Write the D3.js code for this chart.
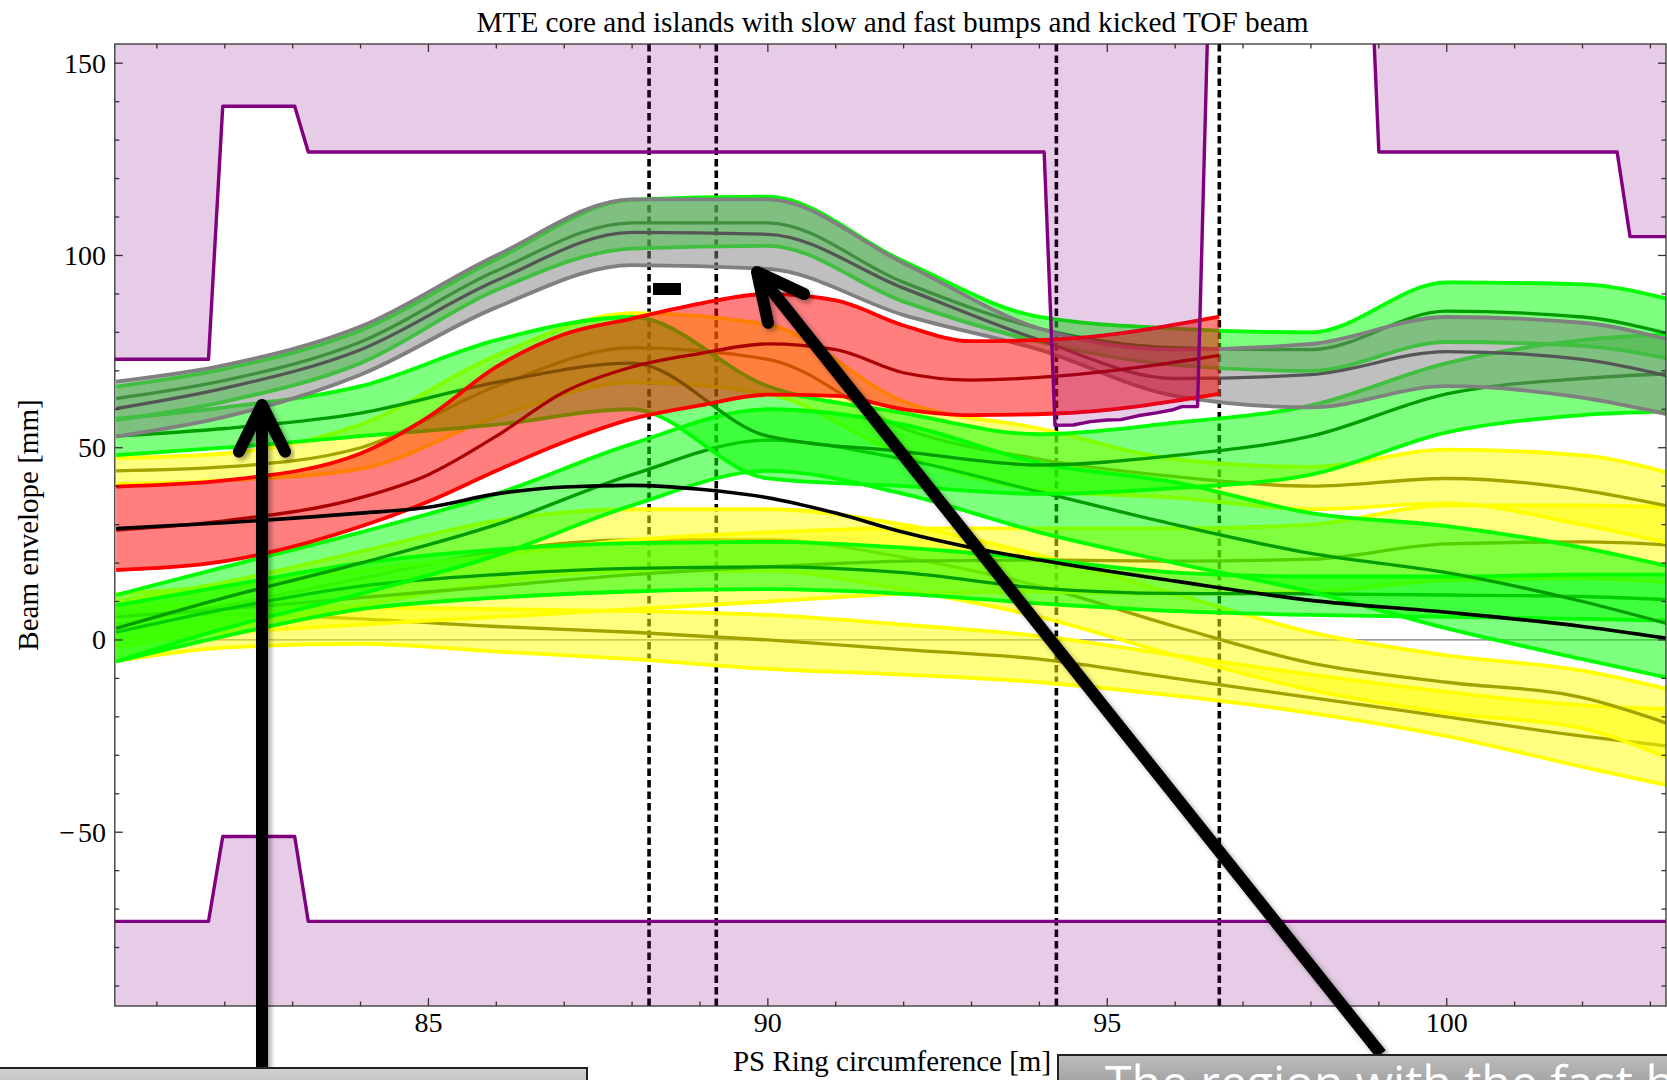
<!DOCTYPE html>
<html>
<head>
<meta charset="utf-8">
<script src="https://cdn.jsdelivr.net/npm/d3@7/dist/d3.min.js"></script>
<style>
body { margin:0; background:#fff; }
svg { display:block; }
</style>
</head>
<body>
<script>
// x grid shared by most bands (PS ring position, m)
var X = [80.4, 82, 84, 86, 88, 90, 92, 94, 96, 98, 100, 102, 103.3];

// core beam (grey)
var cTop = [67.2, 71.5, 81.5, 100, 114.6, 114.6, 98, 81, 75.5, 77, 84, 82.5, 78];
var cMid = [60.2, 65.5, 75.5, 93.5, 106, 105.5, 91.5, 78, 68, 69, 75, 73, 68.5];
var cLow = [52.9, 58, 69, 86.5, 97.5, 96.5, 84.5, 75.5, 63.5, 60.5, 66, 63, 58.5];

// islands (green)
var g1Top = [65.9, 70.5, 80.5, 99, 114.5, 115.3, 98.5, 84, 81, 80, 93, 92.5, 88.5];
var g1Mid = [62.8, 67.5, 77.5, 96, 108.5, 108.5, 93, 81, 76, 75.5, 85.5, 84, 79.5];
var g1Low = [57.2, 62, 72, 91, 101.8, 102.5, 88, 77.5, 71.5, 70, 77.5, 76.5, 73];

var g2Top = [57.5, 60.5, 66, 78, 84, 66, 59, 53.5, 56.5, 61, 72, 78, 79.5];
var g2Mid = [53, 55, 59, 67, 72, 53, 49, 45.5, 48, 53, 64, 68, 69.3];
var g2Low = [48.1, 50, 53, 56, 60, 42, 40, 38, 39.5, 43, 54, 58.5, 59.4];

var g6Top = [11.7, 19, 28, 38, 51, 60, 56, 46, 41, 33, 29.6, 24, 19];
var g6Mid = [3, 11, 20, 30, 43, 52, 47, 38.5, 30, 22.5, 17.5, 10, 4];
var g6Low = [-5.6, 3, 12, 22, 35, 44, 38, 28, 20, 12.5, 3, -5, -10];

var g7Top = [9, 14, 20, 23.5, 25.2, 25.5, 24, 21, 17.5, 16.5, 16.5, 17, 17];
var g7Mid = [2, 8, 14, 17, 18.6, 19, 17.5, 13.5, 12.1, 12, 11.7, 11.3, 10.4];
var g7Low = [-5.6, 1, 8, 11, 12.6, 13.2, 12, 9.5, 7.5, 6.5, 6, 5.5, 5];

// islands (yellow)
var y3Top = [47.3, 48.5, 56, 74, 85, 82, 62, 55, 47, 45, 49.5, 48, 43.3];
var y3Mid = [44, 45, 50, 66, 76, 73, 55, 47, 42.5, 40, 42, 39, 34.7];
var y3Low = [40.5, 41.5, 44.5, 58, 67, 64, 48, 39, 37, 34, 35.5, 30, 25.1];

var y6Top = [12, 14, 18, 22, 26, 28, 29, 29, 29, 30, 35, 35, 34.5];
var y6Mid = [6, 8, 11, 14, 17, 19, 20.5, 20.8, 20.5, 21, 25, 25.5, 24.7];
var y6Low = [0, 2, 4, 6, 8, 10, 12, 12.5, 12, 12.5, 15.5, 16, 15];

var y8Top = [10, 15, 23, 31, 34, 34, 30, 22, 12, 2, -4, -8, -13];
var y8Mid = [4, 9, 16, 23, 26, 26, 21.5, 14, 3.5, -6, -11, -15, -22];
var y8Low = [-2, 3, 9, 15, 18, 18, 13, 6, -4, -13, -19, -23, -31];

var y5Top = [9, 9, 8.5, 8, 7.5, 6.5, 4, 1, -4, -9, -13.5, -17, -18];
var y5Mid = [7, 6.8, 5.5, 3.5, 2, 0, -2.5, -5, -10, -15, -20, -25, -27.7];
var y5Low = [-5.5, -2, -1, -3, -5, -7.5, -9, -11, -14.5, -19, -25, -33, -38];

// kicked TOF beam (red)
var rX   = [80.4, 82, 84, 85, 86, 87, 88, 89, 90, 91, 92, 93, 94.25, 96.65];
var rTop = [39.9, 41.5, 48.5, 58, 71, 79.5, 83.6, 87.5, 90, 88.3, 81.8, 77.7, 78.2, 84.1];
var rMid = [28.6, 31, 37, 43, 53, 64.5, 71, 74.5, 77, 75.5, 69.5, 67.6, 68.6, 74];
var rLow = [18.2, 20.5, 29.5, 36, 44, 51.5, 57.5, 61, 63.8, 63.5, 60, 58.5, 58.9, 64];

// closed orbit (black)
var kX = [80.4, 82, 84, 85, 86, 87, 88, 89, 90, 91, 92, 93, 94, 96, 98, 100, 102, 103.3];
var kY = [29, 30.5, 33, 34.5, 38, 39.8, 40.2, 39.2, 37, 33, 28, 24, 20.8, 15.3, 10.3, 7.2, 3.5, 0.3];

// aperture (purple)
var apUpX  = [80.3, 81.76, 81.97, 83.03, 83.23, 94.07, 94.23, 94.5, 94.75, 95.0, 95.2, 95.45, 95.7, 95.95, 96.1, 96.33, 96.48];
var apUpY  = [73, 73, 138.8, 138.8, 126.9, 126.9, 55.8, 55.9, 56.8, 57.2, 57.3, 58.3, 59.0, 59.8, 60.7, 60.7, 160];
var apUp2X = [98.92, 99.0, 102.51, 102.70, 103.5];
var apUp2Y = [160, 126.9, 126.9, 104.9, 104.9];
var apLoX  = [80.3, 81.76, 81.97, 83.03, 83.23, 103.5];
var apLoY  = [-73.2, -73.2, -51.1, -51.1, -73.2, -73.2];

// bump / kicker positions
var markers = [88.25, 89.24, 94.25, 96.65];

var xMajor = [85, 90, 95, 100];
var yMajor = [-50, 0, 50, 100, 150];

var width = 1667, height = 1080;
var svg = d3.select('body').append('svg')
  .attr('width', width)
  .attr('height', height);

var x = d3.scaleLinear().domain([80.38, 103.23]).range([114.8, 1666]);
var y = d3.scaleLinear().domain([-95.2, 155]).range([1006, 44]);

var defs = svg.append('defs');
defs.append('clipPath').attr('id', 'plot')
  .append('rect')
  .attr('x', x.range()[0]).attr('y', y.range()[1])
  .attr('width', x.range()[1] - x.range()[0])
  .attr('height', y.range()[0] - y.range()[1]);
var sh = defs.append('filter').attr('id', 'shadow')
  .attr('x', '-20%').attr('y', '-20%').attr('width', '140%').attr('height', '140%');
sh.append('feDropShadow').attr('dx', 3).attr('dy', 3).attr('stdDeviation', 2.5)
  .attr('flood-color', '#000').attr('flood-opacity', 0.35);
var gr1 = defs.append('linearGradient').attr('id', 'boxL').attr('x1', 0).attr('y1', 0).attr('x2', 0).attr('y2', 1);
gr1.append('stop').attr('offset', '0%').attr('stop-color', '#d2d2d2');
gr1.append('stop').attr('offset', '100%').attr('stop-color', '#b0b0b0');
var gr2 = defs.append('linearGradient').attr('id', 'boxR').attr('x1', 0).attr('y1', 0).attr('x2', 0).attr('y2', 1);
gr2.append('stop').attr('offset', '0%').attr('stop-color', '#bdbdbd');
gr2.append('stop').attr('offset', '100%').attr('stop-color', '#8e8e8e');

var plot = svg.append('g').attr('clip-path', 'url(#plot)');

// zero axis
plot.append('line')
  .attr('x1', x.range()[0]).attr('x2', x.range()[1])
  .attr('y1', y(0)).attr('y2', y(0))
  .attr('stroke', '#777').attr('stroke-width', 1.3);

// dashed markers
plot.selectAll('line.mk').data(markers).enter().append('line')
  .attr('class', 'mk')
  .attr('x1', function(d){ return x(d); }).attr('x2', function(d){ return x(d); })
  .attr('y1', y.range()[1]).attr('y2', y.range()[0])
  .attr('stroke', '#000').attr('stroke-width', 3.6)
  .attr('stroke-dasharray', '7.5,4');

var GREEN  = {fill: 'rgba(0,255,0,0.5)',     edge: '#00ff00', mid: '#009c00'};
var YELLOW = {fill: 'rgba(255,255,0,0.5)',   edge: '#ffff00', mid: '#a3a300'};
var RED    = {fill: 'rgba(255,0,0,0.5)',     edge: '#ff0000', mid: '#aa0000'};
var GREY   = {fill: 'rgba(128,128,128,0.5)', edge: '#808080', mid: '#555555'};

var curve = d3.curveMonotoneX;

var band = function(xs, top, mid, low, col){
  var pts = xs.map(function(d, i){ return {x: d, t: top[i], m: mid[i], l: low[i]}; });
  var g = plot.append('g');
  g.append('path').datum(pts)
    .attr('d', d3.area().curve(curve)
      .x(function(d){ return x(d.x); })
      .y0(function(d){ return y(d.l); })
      .y1(function(d){ return y(d.t); }))
    .attr('fill', col.fill);
  [['t', col.edge, 3.8], ['l', col.edge, 3.8], ['m', col.mid, 3.3]].forEach(function(k){
    g.append('path').datum(pts)
      .attr('d', d3.line().curve(curve)
        .x(function(d){ return x(d.x); })
        .y(function(d){ return y(d[k[0]]); }))
      .attr('fill', 'none')
      .attr('stroke', k[1])
      .attr('stroke-width', k[2]);
  });
}

// yellow islands first, green on top of them
band(X, y5Top, y5Mid, y5Low, YELLOW);
band(X, y8Top, y8Mid, y8Low, YELLOW);
band(X, y6Top, y6Mid, y6Low, YELLOW);
band(X, y3Top, y3Mid, y3Low, YELLOW);
band(X, g7Top, g7Mid, g7Low, GREEN);
band(X, g6Top, g6Mid, g6Low, GREEN);
band(X, g2Top, g2Mid, g2Low, GREEN);
band(X, g1Top, g1Mid, g1Low, GREEN);
band(X, cTop, cMid, cLow, GREY);
band(rX, rTop, rMid, rLow, RED);

// black orbit
plot.append('path')
  .datum(kX.map(function(d, i){ return [d, kY[i]]; }))
  .attr('d', d3.line().curve(curve)
    .x(function(d){ return x(d[0]); })
    .y(function(d){ return y(d[1]); }))
  .attr('fill', 'none').attr('stroke', '#000').attr('stroke-width', 3.6);

// apertures
var aper = function(xs, ys, edge){
  var pts = xs.map(function(d, i){ return [d, ys[i]]; });
  plot.append('path').datum(pts)
    .attr('d', d3.area()
      .x(function(d){ return x(d[0]); })
      .y0(function(){ return y(edge); })
      .y1(function(d){ return y(d[1]); }))
    .attr('fill', 'rgba(128,0,128,0.2)');
  plot.append('path').datum(pts)
    .attr('d', d3.line()
      .x(function(d){ return x(d[0]); })
      .y(function(d){ return y(d[1]); }))
    .attr('fill', 'none').attr('stroke', '#800080').attr('stroke-width', 3.4)
    .attr('stroke-linejoin', 'round');
}
aper(apUpX, apUpY, 170);
aper(apUp2X, apUp2Y, 170);
aper(apLoX, apLoY, -110);

// frame and ticks
var fr = svg.append('g').attr('stroke', '#333').attr('stroke-width', 1.3);
fr.append('rect')
  .attr('x', x.range()[0]).attr('y', y.range()[1])
  .attr('width', x.range()[1] - x.range()[0])
  .attr('height', y.range()[0] - y.range()[1])
  .attr('fill', 'none');
var xMinor = d3.range(81, 104);
xMinor.forEach(function(v){
  var len = xMajor.indexOf(v) >= 0 ? 8 : 4.5;
  fr.append('line').attr('x1', x(v)).attr('x2', x(v)).attr('y1', y.range()[0]).attr('y2', y.range()[0] - len);
  fr.append('line').attr('x1', x(v)).attr('x2', x(v)).attr('y1', y.range()[1]).attr('y2', y.range()[1] + len);
});
var yMinor = d3.range(-90, 160, 10);
yMinor.forEach(function(v){
  var len = yMajor.indexOf(v) >= 0 ? 8 : 4.5;
  fr.append('line').attr('y1', y(v)).attr('y2', y(v)).attr('x1', x.range()[0]).attr('x2', x.range()[0] + len);
  fr.append('line').attr('y1', y(v)).attr('y2', y(v)).attr('x1', x.range()[1]).attr('x2', x.range()[1] - len);
});

var font = '"Liberation Serif", "Times New Roman", serif';
svg.selectAll('text.xt').data(xMajor).enter().append('text')
  .attr('class', 'xt')
  .attr('x', function(d){ return x(d); })
  .attr('y', 1032)
  .attr('text-anchor', 'middle')
  .attr('font-family', font).attr('font-size', 28)
  .text(function(d){ return d; });
var yt = svg.selectAll('text.yt').data(yMajor).enter().append('text')
  .attr('class', 'yt')
  .attr('x', 106)
  .attr('y', function(d){ return y(d) + 9.5; })
  .attr('text-anchor', 'end')
  .attr('font-family', font).attr('font-size', 28);
yt.filter(function(d){ return d < 0; })
  .append('tspan').text('\u2212');
yt.append('tspan')
  .attr('dx', function(d){ return d < 0 ? 3 : 0; })
  .text(function(d){ return Math.abs(d); });

svg.append('text')
  .attr('x', 892.5).attr('y', 32)
  .attr('text-anchor', 'middle')
  .attr('font-family', font).attr('font-size', 29.3)
  .text('MTE core and islands with slow and fast bumps and kicked TOF beam');
svg.append('text')
  .attr('x', 892).attr('y', 1071)
  .attr('text-anchor', 'middle')
  .attr('font-family', font).attr('font-size', 29)
  .text('PS Ring circumference [m]');
svg.append('text')
  .attr('transform', 'translate(38,525) rotate(-90)')
  .attr('text-anchor', 'middle')
  .attr('font-family', font).attr('font-size', 29)
  .text('Beam envelope [mm]');

// slide annotations on top of the plot
var ann = svg.append('g');
ann.append('rect')
  .attr('x', 653).attr('y', 283).attr('width', 28).attr('height', 12)
  .attr('fill', '#000');

var arrow = function(x1, y1, x2, y2){
  var a = Math.atan2(y1 - y2, x1 - x2), L = 52, s = 0.46;
  var g = ann.append('g').attr('filter', 'url(#shadow)')
    .attr('stroke', '#000').attr('stroke-width', 12).attr('fill', 'none')
    .attr('stroke-linecap', 'round').attr('stroke-linejoin', 'round');
  g.append('line').attr('x1', x1).attr('y1', y1).attr('x2', x2).attr('y2', y2)
    .attr('stroke-linecap', 'butt');
  g.append('path').attr('d', 'M' + (x2 + L * Math.cos(a - s)) + ',' + (y2 + L * Math.sin(a - s)) +
    'L' + x2 + ',' + y2 +
    'L' + (x2 + L * Math.cos(a + s)) + ',' + (y2 + L * Math.sin(a + s)));
}
arrow(262, 1070, 262, 405);
arrow(1381, 1054, 757, 272);

ann.append('rect')
  .attr('x', -3).attr('y', 1068).attr('width', 590).attr('height', 40)
  .attr('fill', 'url(#boxL)').attr('stroke', '#222').attr('stroke-width', 2);
ann.append('rect')
  .attr('x', 1058).attr('y', 1055).attr('width', 620).attr('height', 50)
  .attr('fill', 'url(#boxR)').attr('stroke', '#222').attr('stroke-width', 2);
ann.append('text')
  .attr('x', 1105).attr('y', 1100)
  .attr('font-family', '"Open Sans", "DejaVu Sans", sans-serif').attr('font-size', 48)
  .attr('fill', '#fff')
  .text('The region with the fast bump');
</script>
</body>
</html>
